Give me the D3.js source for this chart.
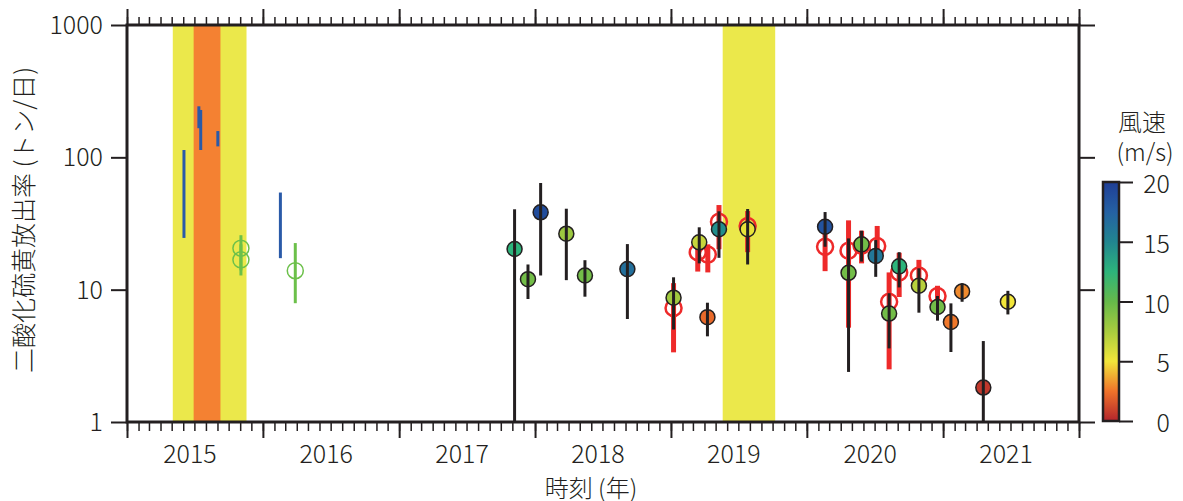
<!DOCTYPE html>
<html>
<head>
<meta charset="utf-8">
<script src="https://cdn.jsdelivr.net/npm/d3@7"></script>
<style>
  body { margin: 0; background: #fff; }
  text { font-family: "Noto Sans CJK JP", "Noto Sans", sans-serif; font-weight: 300; fill: #231f20; }
</style>
</head>
<body>
<svg id="chart" width="1183" height="501"></svg>
<script>
// ---- shaded activity periods ----
const bandStart = ["2015-05-04", "2015-06-29", "2019-05-20"];
const bandEnd   = ["2015-11-18", "2015-09-09", "2019-10-08"];
const bandLevel = [1, 2, 1];

// ---- emission rate with wind speed (filled circles) ----
const ptDates = ["2017-11-07","2017-12-13","2018-01-16","2018-03-26","2018-05-15","2018-09-06",
                 "2019-01-08","2019-03-18","2019-04-09","2019-05-10","2019-07-26",
                 "2020-02-19","2020-04-22","2020-05-27","2020-07-04","2020-08-09","2020-09-05",
                 "2020-10-28","2020-12-17","2021-01-22","2021-02-21","2021-04-19","2021-06-24"];
const ptValue = [20.3, 12.0, 38.4, 26.5, 12.8, 14.3,
                 8.7, 22.8, 6.2, 28.6, 28.6,
                 29.9, 13.4, 22.0, 18.0, 6.6, 15.0,
                 10.7, 7.4, 5.7, 9.7, 1.82, 8.1];
const ptLow   = [1.0, 8.5, 12.8, 11.8, 8.85, 6.0,
                 5.0, 15.8, 4.44, 17.4, 15.5,
                 21.1, 2.39, 16.3, 12.5, 3.6, 10.4,
                 6.7, 5.83, 3.38, 8.1, 1.0, 6.5];
const ptHigh  = [40.5, 15.5, 64, 40.9, 16.7, 22.1,
                 12.4, 29.6, 7.97, 39.1, 40.7,
                 38.6, 24.4, 27.9, 23.7, 9.4, 19.2,
                 14.5, 8.96, 7.88, 11.2, 4.09, 9.8];
const ptWind  = [12.5, 9.5, 19, 8, 9.5, 16.5,
                 7.8, 6.5, 2.2, 14.5, 5.3,
                 18.5, 9.5, 9.5, 16, 9.5, 12.5,
                 7, 9.5, 2.6, 3.0, 0.6, 5];

// ---- emission rate, second method (red open circles) ----
const redDates = ["2019-01-08","2019-03-14","2019-04-10","2019-05-10","2019-07-26",
                  "2020-02-19","2020-04-22","2020-05-27","2020-07-08","2020-08-09",
                  "2020-09-05","2020-10-28","2020-12-17"];
const redValue = [7.27, 19.2, 18.4, 32.6, 30.3, 21.1, 19.7, 21.5, 21.4, 8.1, 13.5, 12.8, 8.96];
const redLow   = [3.36, 13.7, 13.5, 20.2, 19.2, 13.8, 5.16, 15.8, 15.8, 2.5, 8.8, 10.0, 7.4];
const redHigh  = [11.2, 23.0, 22.0, 43.6, 39.3, 27.0, 33.4, 27.9, 30.3, 13.5, 19.0, 16.8, 10.7];

// ---- earlier observations (green open circles) ----
const greenDates = ["2015-11-03","2015-11-03","2016-03-28"];
const greenValue = [20.6, 16.8, 13.9];
const greenLow   = [14.0, 12.8, 7.9];
const greenHigh  = [25.8, 22.0, 22.5];

// ---- earlier ranges (blue bars) ----
const blueDates = ["2015-06-03","2015-07-13","2015-07-18","2015-09-02","2016-02-17"];
const blueLow   = [24.6, 166, 113.6, 121, 17.3];
const blueHigh  = [113.6, 243, 228, 158, 54.2];

// ---- axes ----
const yTicks = [1, 10, 100, 1000];
const yearLabels = [2015, 2016, 2017, 2018, 2019, 2020, 2021];
const windTicks = [0, 5, 10, 15, 20];

const ink = "#231f20";
const plot = { left: 127, right: 1079, top: 25, bottom: 422 };
const parse = d3.utcParse("%Y-%m-%d");
const svg = d3.select("#chart");

const x = d3.scaleUtc()
  .domain([Date.UTC(2015, 0, 1), Date.UTC(2022, 0, 1)])
  .range([plot.left, plot.right]);
const y = d3.scaleLog().domain([1, 1000]).range([plot.bottom, plot.top]);

const windStops = [0, 2.5, 5, 7.5, 10, 12.5, 15, 17.5, 20];
const windColors = ["#b2252c", "#f0732a", "#f2e63a", "#a9cc3e", "#66b94a",
                    "#2db47b", "#218590", "#2561a3", "#1f3e96"];
const wind = d3.scaleLinear().domain(windStops).range(windColors).clamp(true);
const bandColor = d3.scaleOrdinal().domain([1, 2]).range(["#ebe84b", "#f48132"]);

// shaded periods
svg.append("g").selectAll("rect")
  .data(bandStart.map((s, i) => ({ s: parse(s), e: parse(bandEnd[i]), lvl: bandLevel[i] })))
  .join("rect")
  .attr("x", d => x(d.s))
  .attr("width", d => x(d.e) - x(d.s))
  .attr("y", plot.top)
  .attr("height", plot.bottom - plot.top)
  .attr("fill", d => bandColor(d.lvl));

// blue bars
svg.append("g").selectAll("line")
  .data(blueDates.map((d, i) => ({ t: parse(d), lo: blueLow[i], hi: blueHigh[i] })))
  .join("line")
  .attr("x1", d => x(d.t)).attr("x2", d => x(d.t))
  .attr("y1", d => y(d.lo)).attr("y2", d => y(d.hi))
  .attr("stroke", "#2a5aa8").attr("stroke-width", 3);

// green circles with bars
const green = greenDates.map((d, i) => ({ t: parse(d), v: greenValue[i], lo: greenLow[i], hi: greenHigh[i] }));
svg.append("g").selectAll("line")
  .data(green).join("line")
  .attr("x1", d => x(d.t)).attr("x2", d => x(d.t))
  .attr("y1", d => y(d.lo)).attr("y2", d => y(d.hi))
  .attr("stroke", "#6cc04a").attr("stroke-width", 3);
svg.append("g").selectAll("circle")
  .data(green).join("circle")
  .attr("cx", d => x(d.t)).attr("cy", d => y(d.v)).attr("r", 8)
  .attr("fill", "none").attr("stroke", "#6cc04a").attr("stroke-width", 1.5);

// red bars and open circles
const red = redDates.map((d, i) => ({ t: parse(d), v: redValue[i], lo: redLow[i], hi: redHigh[i] }));
svg.append("g").selectAll("line")
  .data(red).join("line")
  .attr("x1", d => x(d.t)).attr("x2", d => x(d.t))
  .attr("y1", d => y(d.lo)).attr("y2", d => y(d.hi))
  .attr("stroke", "#ee2a2a").attr("stroke-width", 5);
svg.append("g").selectAll("circle")
  .data(red).join("circle")
  .attr("cx", d => x(d.t)).attr("cy", d => y(d.v)).attr("r", 8)
  .attr("fill", "none").attr("stroke", "#ee2a2a").attr("stroke-width", 2.5);

// filled circles coloured by wind speed, black bars on top
const pts = ptDates.map((d, i) => ({ t: parse(d), v: ptValue[i], lo: ptLow[i], hi: ptHigh[i], w: ptWind[i] }));
svg.append("g").selectAll("circle")
  .data(pts).join("circle")
  .attr("cx", d => x(d.t)).attr("cy", d => y(d.v)).attr("r", 7.5)
  .attr("fill", d => wind(d.w)).attr("stroke", ink).attr("stroke-width", 1.5);
svg.append("g").selectAll("line")
  .data(pts).join("line")
  .attr("x1", d => x(d.t)).attr("x2", d => x(d.t))
  .attr("y1", d => y(d.lo)).attr("y2", d => y(d.hi))
  .attr("stroke", ink).attr("stroke-width", 3);

// time axes: monthly minor ticks, yearly major ticks, top and bottom
function timeAxis(axisFn, ty, interval, size, width) {
  const g = svg.append("g")
    .attr("transform", `translate(0,${ty})`)
    .call(axisFn(x).ticks(interval).tickSize(size).tickFormat(""));
  g.select(".domain").remove();
  g.selectAll(".tick line").attr("stroke", ink).attr("stroke-width", width);
}
timeAxis(d3.axisBottom, plot.bottom, d3.utcMonth.every(1), 9, 1.5);
timeAxis(d3.axisBottom, plot.bottom, d3.utcYear.every(1), 16, 2);
timeAxis(d3.axisTop, plot.top, d3.utcMonth.every(1), 8, 1.5);
timeAxis(d3.axisTop, plot.top, d3.utcYear.every(1), 16, 2);

svg.append("g").selectAll("text")
  .data(yearLabels).join("text")
  .attr("x", d => x(Date.UTC(d, 5, 19)))
  .attr("y", 463)
  .attr("text-anchor", "middle")
  .attr("font-size", 25)
  .text(d => d);

// value axes, left with labels and right plain
const yl = svg.append("g")
  .attr("transform", `translate(${plot.left},0)`)
  .call(d3.axisLeft(y).tickValues(yTicks).tickSize(16).tickPadding(8).tickFormat(d3.format("d")));
yl.select(".domain").remove();
yl.selectAll(".tick line").attr("stroke", ink).attr("stroke-width", 2);
yl.selectAll(".tick text").attr("font-size", 25).attr("font-family", null).attr("dy", "0.34em");

const yr = svg.append("g")
  .attr("transform", `translate(${plot.right},0)`)
  .call(d3.axisRight(y).tickValues(yTicks).tickSize(16).tickFormat(""));
yr.select(".domain").remove();
yr.selectAll(".tick line").attr("stroke", ink).attr("stroke-width", 2);

// frame
svg.append("rect")
  .attr("x", plot.left).attr("y", plot.top)
  .attr("width", plot.right - plot.left).attr("height", plot.bottom - plot.top)
  .attr("fill", "none").attr("stroke", ink).attr("stroke-width", 3);

// axis titles
svg.append("text")
  .attr("transform", `translate(33,220) rotate(-90)`)
  .attr("text-anchor", "middle")
  .attr("font-size", 25)
  .text("二酸化硫黄放出率 (トン/日)");
svg.append("text")
  .attr("x", 591).attr("y", 497)
  .attr("text-anchor", "middle")
  .attr("font-size", 24)
  .text("時刻 (年)");

// wind speed colour bar
const cb = { x: 1103, w: 16, top: 182, bottom: 421 };
const cy = d3.scaleLinear().domain([0, 20]).range([cb.bottom, cb.top]);
const grad = svg.append("defs").append("linearGradient")
  .attr("id", "windGrad").attr("x1", 0).attr("y1", 1).attr("x2", 0).attr("y2", 0);
grad.selectAll("stop").data(windStops).join("stop")
  .attr("offset", d => d / 20)
  .attr("stop-color", d => wind(d));
svg.append("rect")
  .attr("x", cb.x).attr("y", cb.top).attr("width", cb.w).attr("height", cb.bottom - cb.top)
  .attr("fill", "url(#windGrad)").attr("stroke", ink).attr("stroke-width", 2.5);

const ca = svg.append("g")
  .attr("transform", `translate(${cb.x + cb.w},0)`)
  .call(d3.axisRight(cy).tickValues(windTicks).tickSize(14).tickFormat(d3.format("d")));
ca.select(".domain").remove();
ca.selectAll(".tick line").attr("stroke", ink).attr("stroke-width", 2);
ca.selectAll(".tick text")
  .attr("font-size", 25).attr("font-family", null)
  .attr("text-anchor", "end").attr("x", 51).attr("dy", "0.42em");

svg.append("text").attr("x", 1142).attr("y", 131)
  .attr("text-anchor", "middle").attr("font-size", 24).text("風速");
svg.append("text").attr("x", 1145).attr("y", 161)
  .attr("text-anchor", "middle").attr("font-size", 24).text("(m/s)");
</script>
</body>
</html>
